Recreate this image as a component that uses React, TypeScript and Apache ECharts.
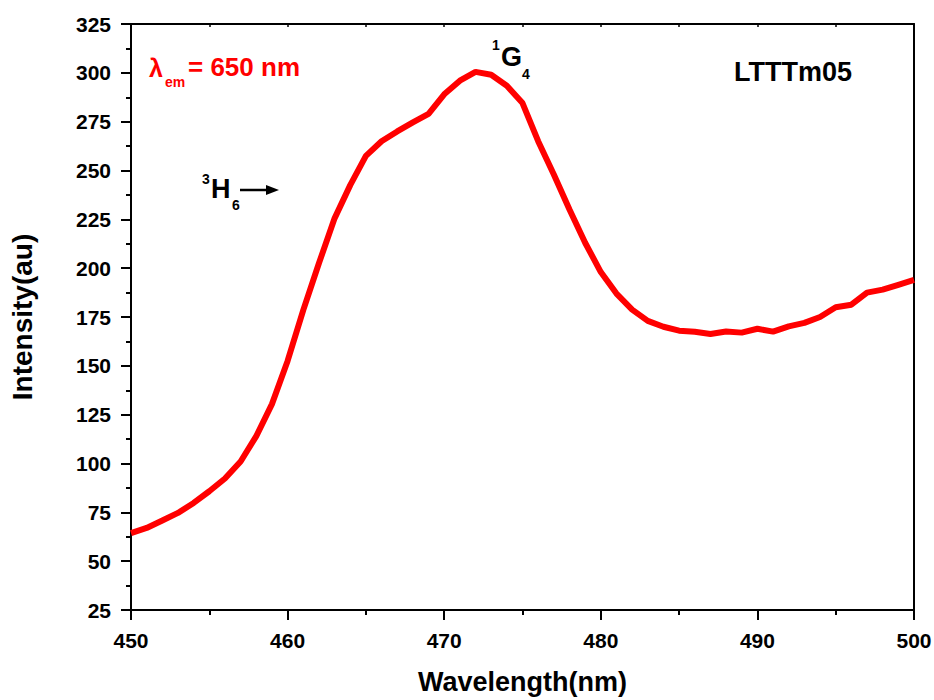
import React, { useEffect, useRef } from "react";
import * as echarts from "echarts";

const wavelengths = [450,451,452,453,454,455,456,457,458,459,460,461,462,463,464,465,466,467,468,469,470,471,472,473,474,475,476,477,478,479,480,481,482,483,484,485,486,487,488,489,490,491,492,493,494,495,496,497,498,499,500];
const intensity = [64.4,67,70.8,74.7,79.8,85.8,92.3,101,114,130.4,152.5,178.5,202.5,225.5,242.5,257.5,265,270,274.6,279,289,296,300.5,299,293.4,284.5,265,248,230,213,198,187,178.8,173,170,168,167.4,166.3,167.6,167,169,167.5,170.2,172,175,180,181.3,187.5,189,191.5,194];
const yTicks = [25,50,75,100,125,150,175,200,225,250,275,300,325];
const xTicks = [450,460,470,480,490,500];

const FONT = "'Liberation Sans', Arial, sans-serif";

export default function App() {
  const ref = useRef<HTMLDivElement>(null);
  useEffect(() => {
    if (!ref.current) return;
    const chart = echarts.init(ref.current, undefined, { renderer: "svg" });
    const data = wavelengths.map((w, i) => [w, intensity[i]]);
    const axisLine = { show: true, lineStyle: { color: "#000", width: 2 } };
    chart.setOption({
      animation: false,
      backgroundColor: "#fff",
      grid: { left: 131, right: 20, top: 24, bottom: 90, containLabel: false, outerBoundsMode: "none" },
      xAxis: [
        {
          type: "value", min: xTicks[0], max: xTicks[xTicks.length - 1], interval: 10,
          axisLine, axisTick: { show: true, length: 10, inside: false, lineStyle: { color: "#000", width: 2 } },
          minorTick: { show: true, splitNumber: 2, length: 5, lineStyle: { color: "#000", width: 2 } },
          splitLine: { show: false },
          axisLabel: { color: "#000", fontSize: 21, fontWeight: "bold", fontFamily: FONT, margin: 20 },
          name: "Wavelength(nm)", nameLocation: "middle", nameGap: 58,
          nameTextStyle: { color: "#000", fontSize: 27, fontWeight: "bold", fontFamily: FONT },
        },
        {
          type: "value", position: "top", min: 450, max: 500, interval: 5,
          axisLine, axisTick: { show: true, inside: true, length: 3, lineStyle: { color: "#000", width: 1.5 } },
          axisLabel: { show: false }, splitLine: { show: false },
        },
      ],
      yAxis: [
        {
          type: "value", min: yTicks[0], max: yTicks[yTicks.length - 1], interval: 25,
          axisLine, axisTick: { show: true, length: 10, inside: false, lineStyle: { color: "#000", width: 2 } },
          minorTick: { show: true, splitNumber: 2, length: 5, lineStyle: { color: "#000", width: 2 } },
          splitLine: { show: false },
          axisLabel: { color: "#000", fontSize: 21, fontWeight: "bold", fontFamily: FONT, margin: 20 },
          name: "Intensity(au)", nameLocation: "middle", nameGap: 95,
          nameTextStyle: { color: "#000", fontSize: 28, fontWeight: "bold", fontFamily: FONT },
        },
        {
          type: "value", position: "right", min: 25, max: 325, interval: 25,
          axisLine, axisTick: { show: false },
          axisLabel: { show: false }, splitLine: { show: false },
        },
      ],
      series: [
        {
          type: "line", data, symbol: "none", smooth: false,
          lineStyle: { color: "#ff0000", width: 6 },
          xAxisIndex: 0, yAxisIndex: 0,
        },
      ],
      graphic: [
        { type: "text", left: 149, top: 55, style: { text: "λ", fill: "#ff0000", font: `bold 25px ${FONT}` } },
        { type: "text", left: 165, top: 75, style: { text: "em", fill: "#ff0000", font: `bold 14px ${FONT}` } },
        { type: "text", left: 188, top: 54, style: { text: "= 650 nm", fill: "#ff0000", font: `bold 26px ${FONT}` } },
        { type: "text", left: 202, top: 172, style: { text: "3", fill: "#000", font: `bold 14px ${FONT}` } },
        { type: "text", left: 211, top: 175, style: { text: "H", fill: "#000", font: `bold 27px ${FONT}` } },
        { type: "text", left: 232, top: 198, style: { text: "6", fill: "#000", font: `bold 14px ${FONT}` } },
        { type: "line", shape: { x1: 240, y1: 190, x2: 268, y2: 190 }, style: { stroke: "#000", lineWidth: 2.5 } },
        { type: "polygon", shape: { points: [[266, 185], [279, 190], [266, 195]] }, style: { fill: "#000" } },
        { type: "text", left: 492, top: 38, style: { text: "1", fill: "#000", font: `bold 14px ${FONT}` } },
        { type: "text", left: 501, top: 43, style: { text: "G", fill: "#000", font: `bold 27px ${FONT}` } },
        { type: "text", left: 522, top: 67, style: { text: "4", fill: "#000", font: `bold 14px ${FONT}` } },
        { type: "text", left: 734, top: 58, style: { text: "LTTTm05", fill: "#000", font: `bold 27px ${FONT}` } },
      ],
    });
    return () => chart.dispose();
  }, []);
  return <div ref={ref} style={{ width: 934, height: 700, position: "absolute", left: 0, top: 0 }} />;
}
